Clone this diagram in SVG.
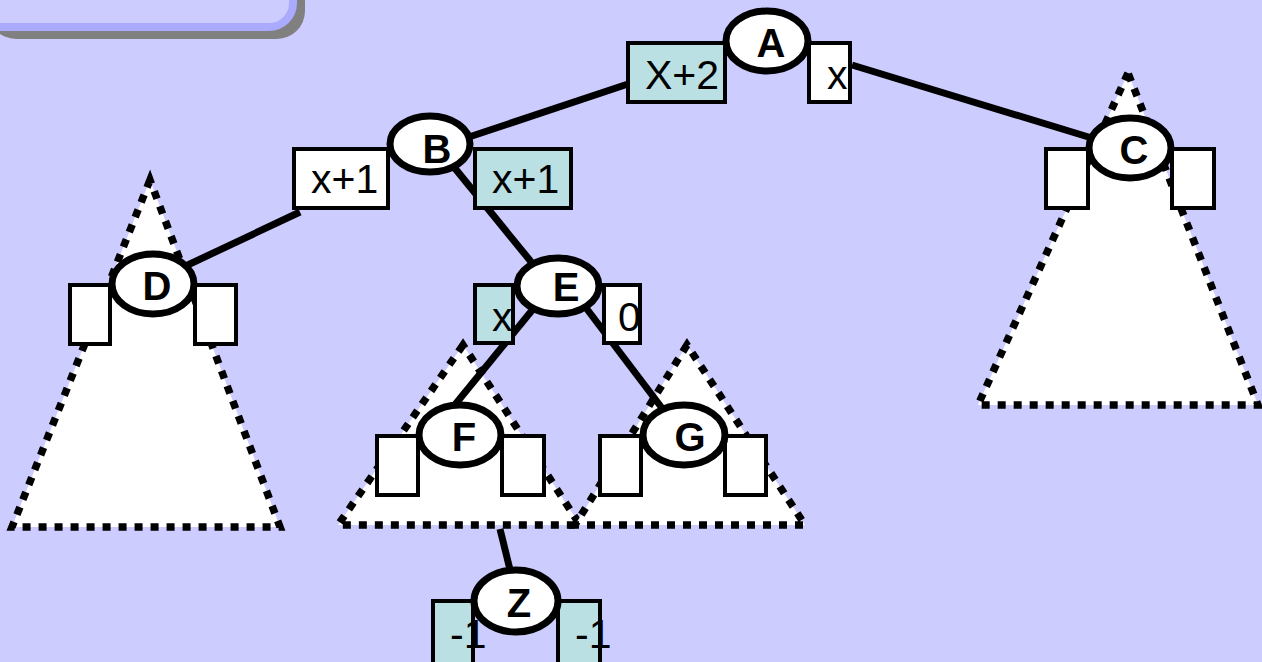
<svg xmlns="http://www.w3.org/2000/svg" width="1262" height="662" viewBox="0 0 1262 662">
<style>
.tri{fill:#ffffff;stroke:#000;stroke-width:7.5;stroke-dasharray:8 8;stroke-linejoin:miter}
.edge{stroke:#000;stroke-width:7;fill:none}
.box{fill:#ffffff;stroke:#000;stroke-width:4}
.teal{fill:#bbe0e3}
.node{fill:#ffffff;stroke:#000;stroke-width:7}
.lbl{font-family:"Liberation Sans",Arial,sans-serif;font-weight:bold;font-size:40px;text-anchor:middle;fill:#000}
.val{font-family:"Liberation Sans",Arial,sans-serif;font-size:41px;fill:#000}
</style>
<rect x="0" y="0" width="1262" height="662" fill="#ccccff"/>
<g id="title-box">
<rect x="-12" y="-52" width="317" height="91" rx="28" fill="#808080"/>
<rect x="-24" y="-60" width="317" height="87" rx="24" fill="#ccccff" stroke="#aaaaff" stroke-width="8"/>
</g>
<g id="subtrees">
<polygon class="tri" points="1128,73 978,405 1258,405"/>
<polygon class="tri" points="150,180 12,527 280,527"/>
<polygon class="tri" points="463,345 338,525 580,525"/>
<polygon class="tri" points="687,345 575,525 805,525"/>
</g>
<g id="connectors">
<line class="edge" x1="640" y1="80" x2="460" y2="140"/>
<line class="edge" x1="852" y1="65" x2="1095" y2="139"/>
<line class="edge" x1="300" y1="212" x2="175" y2="271"/>
<line class="edge" x1="440" y1="150" x2="550" y2="285"/>
<line class="edge" x1="547" y1="292" x2="440" y2="423"/>
<line class="edge" x1="574" y1="292" x2="671" y2="420"/>
<line class="edge" x1="500" y1="529" x2="515" y2="590"/>
</g>
<g id="node-A">
<rect class="box teal" x="628" y="43" width="97" height="59"/>
<rect class="box" x="809" y="43" width="41" height="59"/>
<text class="val" x="645" y="89">X+2</text>
<text class="val" x="827" y="89">x</text>
<ellipse class="node" cx="767" cy="41" rx="41" ry="30"/>
<text class="lbl" x="771" y="57">A</text>
</g>
<g id="node-B">
<rect class="box" x="294" y="149" width="94" height="59"/>
<rect class="box teal" x="475" y="149" width="96" height="59"/>
<text class="val" x="311" y="193">x+1</text>
<text class="val" x="492" y="193">x+1</text>
<ellipse class="node" cx="430" cy="144" rx="40" ry="28"/>
<text class="lbl" x="437" y="163">B</text>
</g>
<g id="node-C">
<rect class="box" x="1046" y="149" width="42" height="59"/>
<rect class="box" x="1172" y="149" width="42" height="59"/>
<ellipse class="node" cx="1130" cy="148" rx="41" ry="30"/>
<text class="lbl" x="1134" y="164">C</text>
</g>
<g id="node-D">
<rect class="box" x="70" y="285" width="40" height="59"/>
<rect class="box" x="195" y="285" width="41" height="59"/>
<ellipse class="node" cx="153" cy="284" rx="41" ry="30"/>
<text class="lbl" x="157" y="300">D</text>
</g>
<g id="node-E">
<rect class="box teal" x="475" y="285" width="38" height="58"/>
<rect class="box" x="604" y="285" width="36" height="58"/>
<text class="val" x="492" y="331">x</text>
<text class="val" x="618" y="331">0</text>
<ellipse class="node" cx="558" cy="286" rx="41" ry="28"/>
<text class="lbl" x="566" y="301">E</text>
</g>
<g id="node-F">
<rect class="box" x="377" y="436" width="41" height="59"/>
<rect class="box" x="502" y="436" width="42" height="59"/>
<ellipse class="node" cx="460" cy="435" rx="41" ry="30"/>
<text class="lbl" x="464" y="451">F</text>
</g>
<g id="node-G">
<rect class="box" x="600" y="436" width="41" height="59"/>
<rect class="box" x="725" y="436" width="41" height="59"/>
<ellipse class="node" cx="684" cy="435" rx="41" ry="30"/>
<text class="lbl" x="690" y="451">G</text>
</g>
<g id="node-Z">
<rect class="box teal" x="433" y="601" width="40" height="70"/>
<rect class="box teal" x="558" y="601" width="42" height="70"/>
<text class="val" x="450" y="648">-1</text>
<text class="val" x="575" y="648">-1</text>
<ellipse class="node teal" cx="516" cy="601" rx="42" ry="31"/>
<text class="lbl" x="519" y="617">Z</text>
</g>
</svg>
